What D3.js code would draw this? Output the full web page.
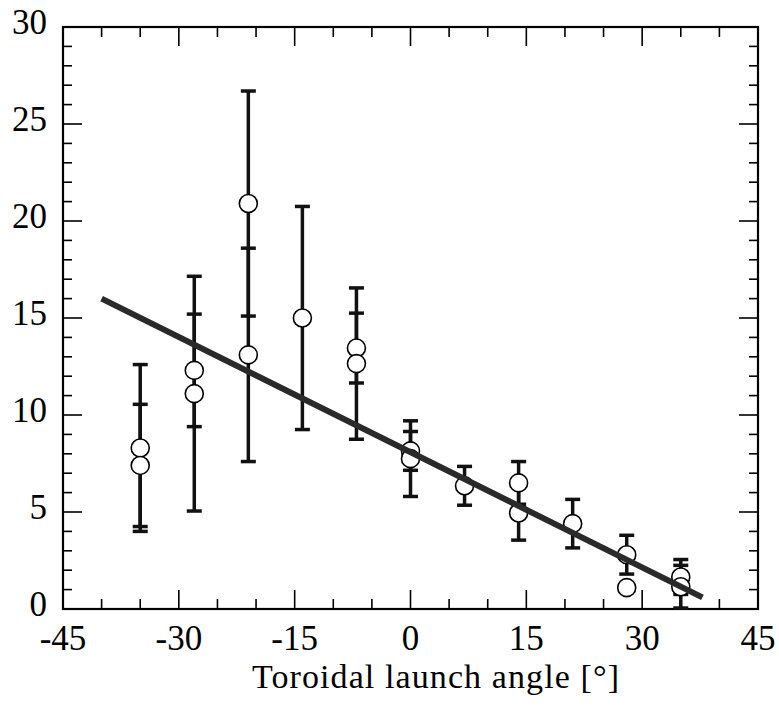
<!DOCTYPE html>
<html>
<head>
<meta charset="utf-8">
<script src="https://cdn.jsdelivr.net/npm/d3@7"></script>
<style>
  html, body { margin: 0; padding: 0; background: #fff; }
  svg { display: block; }
  text { font-family: "Liberation Serif", "Times New Roman", serif; fill: #000; }
</style>
</head>
<body>
<svg id="chart" width="779" height="713"></svg>
<script>
// ---- data ----
const angles = [-35, -35, -28, -28, -21, -21, -14, -7, -7, 0, 0, 7, 14, 14, 21, 28, 28, 35, 35];
const values = [8.3, 7.4, 12.3, 11.1, 20.9, 13.1, 15.0, 13.45, 12.65, 8.15, 7.75, 6.35, 6.5, 4.95, 4.4, 2.8, 1.1, 1.65, 1.15];
const errors = [4.3, 3.15, 2.9, 6.05, 5.8, 5.5, 5.75, 1.8, 3.9, 1.0, 1.95, 1.0, 1.1, 1.4, 1.25, 1.0, 0, 0.9, 1.1];
const fitX = [-40, 37.8];
const fitY = [16.0, 0.6];
const xTicks = [-45, -30, -15, 0, 15, 30, 45];
const yTicks = [0, 5, 10, 15, 20, 25, 30];
const xLabel = "Toroidal launch angle [°]";

// ---- layout ----
const svg = d3.select("#chart");
const L = 63, R = 758, T = 27, B = 609;
const x = d3.scaleLinear().domain([-45, 45]).range([L, R]);
const y = d3.scaleLinear().domain([0, 30]).range([B, T]);

const g = svg.append("g");

// minor/major ticks on all four sides, inward
const xMinor = d3.range(-45, 45.01, 5);
const yMinor = d3.range(0, 30.01, 1);
const tickG = g.append("g").attr("stroke", "#000").attr("stroke-width", 1.6);
xMinor.forEach(v => {
  const major = v % 15 === 0;
  const len = major ? 19 : 10;
  tickG.append("line").attr("x1", x(v)).attr("x2", x(v)).attr("y1", B).attr("y2", B - len);
  tickG.append("line").attr("x1", x(v)).attr("x2", x(v)).attr("y1", T).attr("y2", T + len);
});
yMinor.forEach(v => {
  const major = v % 5 === 0;
  const len = major ? 19 : 9;
  tickG.append("line").attr("y1", y(v)).attr("y2", y(v)).attr("x1", L).attr("x2", L + len);
  tickG.append("line").attr("y1", y(v)).attr("y2", y(v)).attr("x1", R).attr("x2", R - len);
});

// frame
g.append("rect").attr("x", L).attr("y", T).attr("width", R - L).attr("height", B - T)
  .attr("fill", "none").attr("stroke", "#000").attr("stroke-width", 2.2);

// tick labels
g.selectAll("text.xt").data(xTicks).enter().append("text")
  .attr("class", "xt").attr("x", d => x(d)).attr("y", 650)
  .attr("text-anchor", "middle").attr("font-size", 35).text(d => d);
g.selectAll("text.yt").data(yTicks).enter().append("text")
  .attr("class", "yt").attr("x", 47).attr("y", d => y(d) + 7)
  .attr("text-anchor", "end").attr("font-size", 35).text(d => d);

// axis title
g.append("text").attr("x", 436).attr("y", 688).attr("text-anchor", "middle")
  .attr("font-size", 34).attr("letter-spacing", 1.1).text(xLabel);

// error bars
const data = angles.map((a, i) => ({ a, v: values[i], e: errors[i] }));
const eb = g.append("g").attr("stroke", "#111");
data.filter(d => d.e > 0).forEach(d => {
  const cx = x(d.a);
  eb.append("line").attr("x1", cx).attr("x2", cx).attr("y1", y(d.v + d.e)).attr("y2", y(d.v - d.e))
    .attr("stroke-width", 3.5);
  [d.v + d.e, d.v - d.e].forEach(val => {
    eb.append("line").attr("x1", cx - 7.5).attr("x2", cx + 7.5).attr("y1", y(val)).attr("y2", y(val))
      .attr("stroke-width", 3.5);
  });
});

// circles
g.selectAll("circle.pt").data(data).enter().append("circle")
  .attr("class", "pt").attr("cx", d => x(d.a)).attr("cy", d => y(d.v)).attr("r", 9)
  .attr("fill", "#fff").attr("stroke", "#000").attr("stroke-width", 1.6);

// fit line
const lineData = fitX.map((v, i) => [v, fitY[i]]);
g.append("path").datum(lineData)
  .attr("d", d3.line().x(d => x(d[0])).y(d => y(d[1])))
  .attr("stroke", "#2a2a2a").attr("stroke-width", 6).attr("fill", "none");
</script>
</body>
</html>
